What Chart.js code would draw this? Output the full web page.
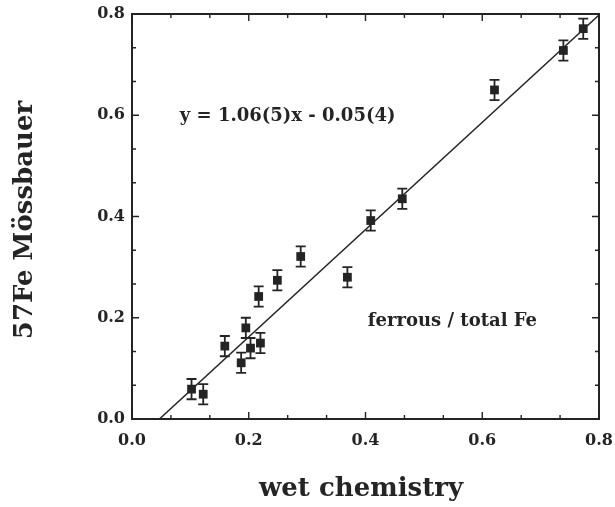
<!DOCTYPE html>
<html>
<head>
<meta charset="utf-8">
<script src="https://cdn.jsdelivr.net/npm/chart.js@4/dist/chart.umd.min.js"></script>
<style>
  html, body { margin: 0; padding: 0; background: #fff; }
</style>
</head>
<body>
<canvas id="grafico" width="615" height="507"></canvas>
<script>
// wet chemistry (x) vs 57Fe Mossbauer (y), ferrous / total Fe
const wetChem   = [0.102, 0.122, 0.159, 0.187, 0.195, 0.203, 0.217, 0.220, 0.249, 0.289, 0.369, 0.409, 0.463, 0.621, 0.739, 0.773];
const mossbauer = [0.059, 0.049, 0.144, 0.111, 0.180, 0.140, 0.242, 0.150, 0.274, 0.321, 0.280, 0.392, 0.435, 0.650, 0.728, 0.771];
const erros     = [0.020, 0.020, 0.020, 0.020, 0.020, 0.020, 0.020, 0.020, 0.020, 0.020, 0.020, 0.020, 0.020, 0.020, 0.020, 0.020];

// fitted line y = 1.06x - 0.05, end points as drawn
const ajusteX = [0.047, 0.8];
const ajusteY = [0.0, 0.798];

const ticksMaiores = [0, 0.2, 0.4, 0.6, 0.8];
const ticksMenores = [0.0667, 0.1333, 0.2667, 0.3333, 0.4667, 0.5333, 0.6667, 0.7333];

const equacao = "y = 1.06(5)x - 0.05(4)";
const rotulo = "ferrous / total Fe";
const tituloX = "wet chemistry";
const tituloY = "57Fe Mössbauer";

const cor = "#242424";
const fonte = "'DejaVu Serif', 'Liberation Serif', serif";

const pontos = wetChem.map((x, i) => ({ x: x, y: mossbauer[i] }));
const linha = ajusteX.map((x, i) => ({ x: x, y: ajusteY[i] }));

const moldura = {
  id: "moldura",
  afterDatasetsDraw(chart) {
    const ctx = chart.ctx;
    const a = chart.chartArea;
    const sx = chart.scales.x;
    const sy = chart.scales.y;
    ctx.save();
    ctx.strokeStyle = cor;

    // error bars
    ctx.lineWidth = 1.8;
    pontos.forEach((p, i) => {
      const px = sx.getPixelForValue(p.x);
      const y1 = sy.getPixelForValue(p.y - erros[i]);
      const y2 = sy.getPixelForValue(p.y + erros[i]);
      ctx.beginPath();
      ctx.moveTo(px, y1); ctx.lineTo(px, y2);
      ctx.moveTo(px - 5, y1); ctx.lineTo(px + 5, y1);
      ctx.moveTo(px - 5, y2); ctx.lineTo(px + 5, y2);
      ctx.stroke();
    });

    // frame
    ctx.lineWidth = 2;
    ctx.strokeRect(a.left, a.top, a.right - a.left, a.bottom - a.top);

    // inward ticks on all four sides
    ctx.lineWidth = 1.4;
    const marca = (v, len) => {
      const px = sx.getPixelForValue(v);
      const py = sy.getPixelForValue(v);
      ctx.beginPath();
      ctx.moveTo(px, a.bottom); ctx.lineTo(px, a.bottom - len);
      ctx.moveTo(px, a.top); ctx.lineTo(px, a.top + len);
      ctx.moveTo(a.left, py); ctx.lineTo(a.left + len, py);
      ctx.moveTo(a.right, py); ctx.lineTo(a.right - len, py);
      ctx.stroke();
    };
    ticksMaiores.forEach(v => marca(v, 7));
    ticksMenores.forEach(v => marca(v, 4));

    // texts
    ctx.fillStyle = cor;
    ctx.textBaseline = "middle";
    ctx.textAlign = "left";
    ctx.font = "bold 18px " + fonte;
    ctx.fillText(equacao, sx.getPixelForValue(0.082), sy.getPixelForValue(0.597));
    ctx.fillText(rotulo, sx.getPixelForValue(0.404), sy.getPixelForValue(0.192));

    ctx.textAlign = "center";
    ctx.font = "bold 26px " + fonte;
    ctx.fillText(tituloX, 361, 489);

    ctx.translate(25, 220);
    ctx.rotate(-Math.PI / 2);
    ctx.font = "bold 26px " + fonte;
    ctx.fillText(tituloY, 0, 0);
    ctx.restore();
  }
};

const fonteTicks = { family: fonte, weight: "bold", size: 16 };

new Chart(document.getElementById("grafico"), {
  type: "scatter",
  data: {
    datasets: [
      {
        label: "Mossbauer",
        data: pontos,
        pointStyle: "rect",
        pointRadius: 6.2,
        backgroundColor: cor,
        borderColor: cor,
        borderWidth: 0
      },
      {
        type: "line",
        label: "ajuste",
        data: linha,
        borderColor: cor,
        borderWidth: 1.5,
        pointRadius: 0,
        fill: false
      }
    ]
  },
  options: {
    responsive: false,
    animation: false,
    layout: { padding: { top: 14, right: 16, left: 0, bottom: 0 } },
    plugins: { legend: { display: false }, tooltip: { enabled: false } },
    scales: {
      x: {
        type: "linear",
        min: 0, max: 0.8,
        grid: { display: false, drawTicks: false },
        border: { display: false },
        ticks: {
          stepSize: 0.2, maxRotation: 0, padding: 12,
          color: cor, font: fonteTicks,
          callback: v => v.toFixed(1)
        },
        afterFit(s) { s.height = 88; s.paddingLeft = 0; s.paddingRight = 0; }
      },
      y: {
        type: "linear",
        min: 0, max: 0.8,
        grid: { display: false, drawTicks: false },
        border: { display: false },
        ticks: {
          stepSize: 0.2, padding: 7,
          color: cor, font: fonteTicks,
          callback: v => v.toFixed(1)
        },
        afterFit(s) { s.width = 132; s.paddingTop = 0; s.paddingBottom = 0; }
      }
    }
  },
  plugins: [moldura]
});
</script>
</body>
</html>
